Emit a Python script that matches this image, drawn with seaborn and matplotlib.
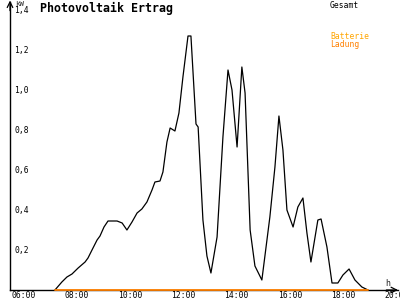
import matplotlib
matplotlib.use("Agg")
import matplotlib.pyplot as plt
import matplotlib.transforms as mtrans
import seaborn as sns
import pandas as pd

# --- data (hours of day, kW) ---
hours = [7.46, 7.72, 7.91, 8.10, 8.33, 8.59, 8.70, 8.85, 9.04, 9.15, 9.30, 9.45,
         9.79, 9.98, 10.16, 10.35, 10.54, 10.72, 10.91, 11.10, 11.21, 11.40, 11.51,
         11.66, 11.78, 11.96, 12.11, 12.26, 12.45, 12.56, 12.75, 12.83, 13.01, 13.16,
         13.31, 13.54, 13.76, 13.95, 14.10, 14.29, 14.47, 14.59, 14.78, 14.96, 15.22,
         15.52, 15.71, 15.86, 16.01, 16.16, 16.39, 16.57, 16.76, 16.91, 17.06, 17.32,
         17.44, 17.66, 17.85, 18.07, 18.26, 18.49, 18.71, 18.97, 19.20]
gesamt = [0.0, 0.04, 0.065, 0.08, 0.11, 0.14, 0.16, 0.20, 0.25, 0.27, 0.315, 0.345,
          0.345, 0.335, 0.30, 0.34, 0.385, 0.405, 0.44, 0.50, 0.54, 0.545, 0.59,
          0.74, 0.81, 0.795, 0.885, 1.065, 1.27, 1.27, 0.83, 0.815, 0.35, 0.17,
          0.085, 0.265, 0.765, 1.10, 1.0, 0.715, 1.115, 0.985, 0.30, 0.12, 0.05,
          0.365, 0.615, 0.87, 0.70, 0.40, 0.315, 0.415, 0.46, 0.285, 0.14, 0.35,
          0.355, 0.215, 0.035, 0.035, 0.075, 0.105, 0.05, 0.015, 0.0]
ladung_hours = [7.46, 19.20]
ladung = [0.0, 0.0]

xticks = [6, 8, 10, 12, 14, 16, 18, 20]
xticklabels = ["06:00", "08:00", "10:00", "12:00", "14:00", "16:00", "18:00", "20:00"]
yticks = [0.2, 0.4, 0.6, 0.8, 1.0, 1.2, 1.4]
yticklabels = ["0,2", "0,4", "0,6", "0,8", "1,0", "1,2", "1,4"]

title = "Photovoltaik Ertrag"
legend_labels = ["Gesamt", "Batterie", "Ladung"]

sns.set_style("white")
plt.rcParams["font.family"] = ["DejaVu Sans Mono"]

df_g = pd.DataFrame({"h": hours, "kW": gesamt})
df_l = pd.DataFrame({"h": ladung_hours, "kW": ladung})

fig = plt.figure(figsize=(4, 3), dpi=100)
fig.patch.set_facecolor("white")
ax = fig.add_axes([10 / 400, 10 / 300, 388 / 400, 288 / 300])
ax.set_facecolor("white")

sns.lineplot(data=df_g, x="h", y="kW", ax=ax, color="black", lw=0.9,
             sort=False, estimator=None, zorder=3)
sns.lineplot(data=df_l, x="h", y="kW", ax=ax, color="#FF8000", lw=1.3,
             sort=False, estimator=None, zorder=4, clip_on=False)

ax.set_xlim(5.775, 20.325)
ax.set_ylim(0, 1.44)
ax.set_xlabel("")
ax.set_ylabel("")

for s in ["top", "right"]:
    ax.spines[s].set_visible(False)
for s in ["left", "bottom"]:
    ax.spines[s].set_color("black")
    ax.spines[s].set_linewidth(1.0)

ax.set_xticks(xticks)
ax.set_xticklabels(xticklabels, ha="left", fontsize=5.8)
ax.set_yticks(yticks)
ax.set_yticklabels(yticklabels, ha="left", fontsize=5.8)
ax.tick_params(axis="x", direction="inout", length=4, width=0.8, pad=-1.2,
               colors="black")
ax.tick_params(axis="y", direction="inout", length=4, width=0.8, pad=-5.2,
               colors="black")
off = mtrans.ScaledTranslation(-5 / 100, 0, fig.dpi_scale_trans)
for lab in ax.get_xticklabels():
    lab.set_transform(lab.get_transform() + off)

# axis arrows
ax.annotate("", xy=(1.0, 0), xytext=(0.97, 0), xycoords="axes fraction",
            arrowprops=dict(arrowstyle="->", lw=0.9, color="black",
                            shrinkA=0, shrinkB=0))
ax.annotate("", xy=(0, 1.005), xytext=(0, 0.97), xycoords="axes fraction",
            arrowprops=dict(arrowstyle="->", lw=0.9, color="black",
                            shrinkA=0, shrinkB=0))

fig.text(40 / 400, 1 - 2 / 300, title, fontsize=8.4, fontweight="bold",
         va="top", ha="left", color="black")
fig.text(15 / 400, 1 - 0.5 / 300, "kW", fontsize=5.3, va="top", ha="left")
fig.text(385 / 400, 1 - 279 / 300, "h", fontsize=6, va="top", ha="left")
fig.text(330 / 400, 1 - 1 / 300, legend_labels[0], fontsize=5.8, va="top",
         ha="left", color="black")
fig.text(330 / 400, 1 - 32 / 300, legend_labels[1], fontsize=5.8, va="top",
         ha="left", color="#FFA500")
fig.text(330 / 400, 1 - 40 / 300, legend_labels[2], fontsize=5.8, va="top",
         ha="left", color="#FF8000")

fig.savefig("out.png", dpi=100, facecolor="white")
